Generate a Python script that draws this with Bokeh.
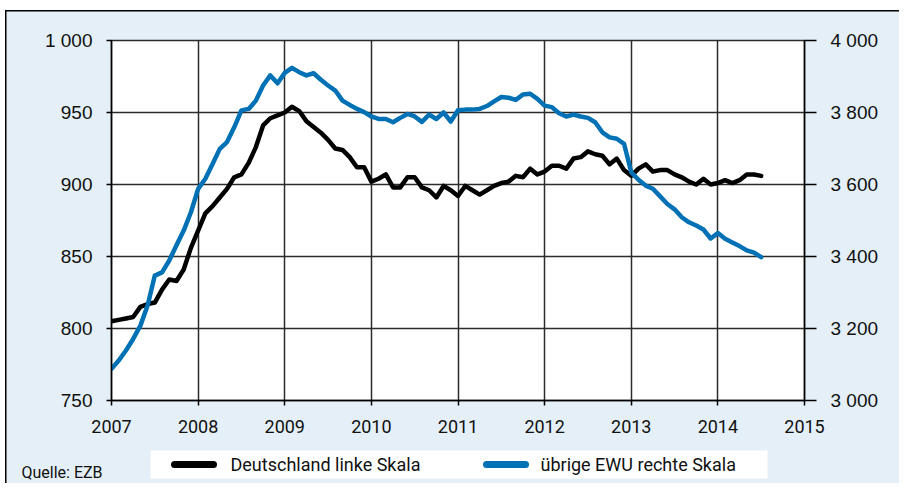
from bokeh.plotting import figure
from bokeh.models import Range1d, LinearAxis, FixedTicker
from bokeh.core.properties import value
from bokeh.embed import file_html
from bokeh.resources import INLINE

# ---- data (monthly, Jan 2007 - Jul 2014) ----
year_ticks = [2007, 2008, 2009, 2010, 2011, 2012, 2013, 2014, 2015]
left_ticks = [750, 800, 850, 900, 950, 1000]
left_labels = ["750", "800", "850", "900", "950", "1 000"]
right_ticks = [3000, 3200, 3400, 3600, 3800, 4000]
right_labels = ["3 000", "3 200", "3 400", "3 600", "3 800", "4 000"]

deutschland = [
    805, 806, 807, 808, 815, 817, 818, 827, 834, 833, 841, 856,
    868, 880, 885, 891, 897, 905, 907, 915, 926, 941, 946, 948,
    950, 954, 951, 944, 940, 936, 931, 925, 924, 919, 912, 912,
    902, 904, 907, 898, 898, 905, 905, 898, 896, 891, 899, 896,
    892, 899, 896, 893, 896, 899, 901, 902, 906, 905, 911, 907,
    909, 913, 913, 911, 918, 919, 923, 921, 920, 914, 918, 910,
    906, 911, 914, 909, 910, 910, 907, 905, 902, 900, 904, 900,
    901, 903, 901, 903, 907, 907, 906,
]
uebrige_ewu = [
    3088, 3111, 3139, 3171, 3208, 3264, 3347, 3356, 3389, 3431, 3472, 3523,
    3588, 3616, 3657, 3699, 3718, 3759, 3806, 3810, 3833, 3875, 3903, 3881,
    3910, 3924, 3912, 3903, 3909, 3891, 3875, 3861, 3833, 3821, 3810, 3801,
    3789, 3782, 3782, 3773, 3785, 3796, 3789, 3774, 3794, 3782, 3800, 3775,
    3806, 3808, 3808, 3810, 3818, 3831, 3843, 3841, 3835, 3850, 3852, 3838,
    3819, 3815, 3798, 3789, 3794, 3789, 3785, 3773, 3745, 3731, 3727, 3713,
    3634, 3613, 3597, 3588, 3567, 3546, 3531, 3509, 3495, 3486, 3475, 3450,
    3465, 3449, 3439, 3429, 3417, 3411, 3398,
]
start_year = 2007
months = list(range(len(deutschland)))
x_vals = [start_year + m / 12 for m in months]

label_de = "Deutschland linke Skala"
label_ewu = "übrige EWU rechte Skala"
source_text = "Quelle: EZB"

BG = "#e4eff7"
BLUE = "#0071b4"
GRID = "#2b2b2b"
TXT = "#111111"
W = 899
H1 = 448
H2 = 35

# ---------------- main chart ----------------
p = figure(
    width=W, height=H1,
    x_range=Range1d(2007, 2015), y_range=Range1d(750, 1000),
    output_backend="svg", toolbar_location=None,
    min_border_left=111, min_border_right=95,
    min_border_top=40, min_border_bottom=48,
    background_fill_color="white",
)
p.border_fill_alpha = 0
p.outline_line_color = GRID
p.outline_line_width = 1.5

p.extra_y_ranges = {"right": Range1d(3000, 4000)}
raxis = LinearAxis(y_range_name="right")
p.add_layout(raxis, "right")

p.xaxis.ticker = FixedTicker(ticks=year_ticks)
p.yaxis[0].ticker = FixedTicker(ticks=left_ticks)
p.yaxis[0].major_label_overrides = {t: l for t, l in zip(left_ticks, left_labels)}
raxis.ticker = FixedTicker(ticks=right_ticks)
raxis.major_label_overrides = {t: l for t, l in zip(right_ticks, right_labels)}

p.xgrid.ticker = FixedTicker(ticks=year_ticks)
p.ygrid.ticker = FixedTicker(ticks=left_ticks)
for g in (p.xgrid[0], p.ygrid[0]):
    g.grid_line_color = GRID
    g.grid_line_width = 1.5

for ax in (p.xaxis[0], p.yaxis[0], raxis):
    ax.axis_line_color = "black"
    ax.axis_line_width = 1.5
    ax.major_tick_line_color = "black"
    ax.major_tick_line_width = 1.5
    ax.minor_tick_line_color = None
    ax.major_tick_in = 0
    ax.major_label_text_color = TXT

p.yaxis[0].major_tick_out = 5
p.yaxis[0].major_label_standoff = 14
raxis.major_tick_out = 12
raxis.major_label_standoff = 14
for ax in (p.yaxis[0], raxis):
    ax.major_label_text_font = "Liberation Sans"
    ax.major_label_text_font_size = "19px"

p.xaxis.major_tick_out = 5
p.xaxis.major_label_standoff = 14
p.xaxis.major_label_text_font = "Roboto"
p.xaxis.major_label_text_font_size = "18px"

p.line(x_vals, deutschland, line_color="black", line_width=4.5,
       line_join="round", line_cap="round")
p.line(x_vals, uebrige_ewu, line_color=BLUE, line_width=4.5,
       line_join="round", line_cap="round", y_range_name="right")

p.styles = {"background": (
    "linear-gradient(#000,#000) 5px 10px / 1.5px 100% no-repeat, "
    "linear-gradient(#000,#000) 5px 10px / 100% 1.5px no-repeat, "
    f"linear-gradient({BG},{BG}) 5px 10px / 100% 100% no-repeat, white"
)}

# ---------------- legend / source strip ----------------
q = figure(
    width=W, height=H2,
    x_range=Range1d(0, W), y_range=Range1d(H2, 0),
    output_backend="svg", toolbar_location=None,
    x_axis_type=None, y_axis_type=None,
    min_border=0, min_border_left=0, min_border_right=0,
    min_border_top=0, min_border_bottom=0,
)
q.grid.visible = False
q.outline_line_color = None
q.background_fill_alpha = 0
q.border_fill_alpha = 0

q.quad(left=[150], right=[767], top=[2], bottom=[30],
       fill_color="white", line_color=None)
q.line([174, 213], [16, 16], line_color="black", line_width=7, line_cap="round")
q.line([486, 525], [16, 16], line_color=BLUE, line_width=7, line_cap="round")
q.text(x=[230, 540], y=[16, 16], text=[label_de, label_ewu],
       text_font=value("Roboto"), text_font_size="18px",
       text_baseline="middle", text_color=TXT)
q.text(x=[21], y=[24], text=[source_text],
       text_font=value("Roboto"), text_font_size="16px",
       text_baseline="middle", text_color=TXT)

q.styles = {"background": (
    "linear-gradient(#000,#000) 5px 0px / 1.5px 100% no-repeat, "
    f"linear-gradient({BG},{BG}) 5px 0px / 100% 100% no-repeat, white"
)}

open("out.html", "w").write(file_html([p, q], INLINE))
